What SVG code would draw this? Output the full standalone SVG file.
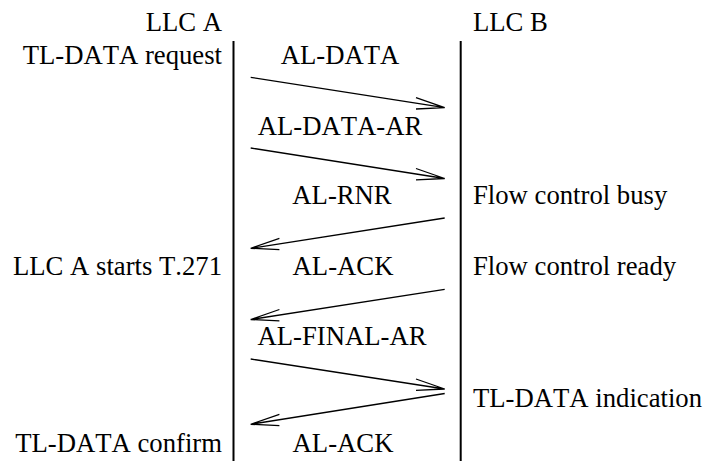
<svg xmlns="http://www.w3.org/2000/svg" width="704" height="461" viewBox="0 0 704 461">
<style>
text{font-kerning:none}
.r{text-anchor:end}
.c{text-anchor:middle}
.life{stroke:#000;stroke-width:2;fill:none}
.msg{stroke:#000;stroke-width:1.3;fill:none}
</style>
<rect width="704" height="461" fill="#fff"/>
<g id="llcA">
<text class="r" x="222" y="31" font-family="Liberation Serif" font-size="26.7">LLC A</text>
<line class="life" x1="233.5" y1="41" x2="233.5" y2="461"/>
</g>
<g id="llcB">
<text x="473" y="31" font-family="Liberation Serif" font-size="26.7">LLC B</text>
<line class="life" x1="460.7" y1="41" x2="460.7" y2="461"/>
</g>
<g id="notesA">
<text class="r" x="222" y="63.5" font-family="Liberation Serif" font-size="26.7">TL-DATA request</text>
<text class="r" x="222" y="275" font-family="Liberation Serif" font-size="26.7">LLC A starts T.271</text>
<text class="r" x="222" y="451.5" font-family="Liberation Serif" font-size="26.7">TL-DATA confirm</text>
</g>
<g id="notesB">
<text x="473" y="204" font-family="Liberation Serif" font-size="26.7">Flow control busy</text>
<text x="473" y="275" font-family="Liberation Serif" font-size="26.7">Flow control ready</text>
<text x="473" y="407" font-family="Liberation Serif" font-size="26.7">TL-DATA indication</text>
</g>
<g id="connectors">
<g id="m1"><path class="msg" d="M250.7,77.3 L444.7,107.7 M416,97.7 L444.7,107.7 L416,109"/><text class="c" x="340" y="63.5" font-family="Liberation Serif" font-size="26.7">AL-DATA</text></g>
<g id="m2"><path class="msg" d="M250.7,148 L444.7,178.5 M416,168.5 L444.7,178.5 L416,179.8"/><text class="c" x="340" y="135" font-family="Liberation Serif" font-size="26.7">AL-DATA-AR</text></g>
<g id="m3"><path class="msg" d="M444.7,218 L250.7,248.3 M279.4,238.3 L250.7,248.3 L279.4,249.6"/><text class="c" x="342" y="204" font-family="Liberation Serif" font-size="26.7">AL-RNR</text></g>
<g id="m4"><path class="msg" d="M444.7,289.3 L250.7,319.5 M279.4,309.5 L250.7,319.5 L279.4,320.8"/><text class="c" x="343" y="275" font-family="Liberation Serif" font-size="26.7">AL-ACK</text></g>
<g id="m5"><path class="msg" d="M250.7,359 L444.7,389 M416,379 L444.7,389 L416,390.3"/><text class="c" x="342" y="345" font-family="Liberation Serif" font-size="26.7">AL-FINAL-AR</text></g>
<g id="m6"><path class="msg" d="M444.7,393.5 L250.7,424.3 M279.4,414.3 L250.7,424.3 L279.4,425.6"/><text class="c" x="343" y="451.5" font-family="Liberation Serif" font-size="26.7">AL-ACK</text></g>
</g>
</svg>
